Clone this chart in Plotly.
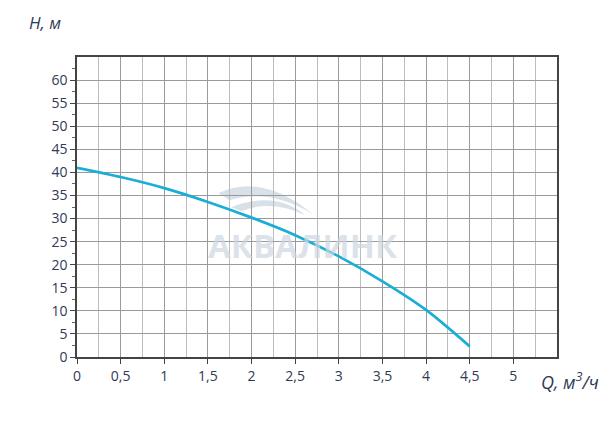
import plotly.graph_objects as go

# data
q_values = [0, 0.5, 1.0, 1.5, 2.0, 2.5, 3.0, 3.5, 4.0, 4.5]
h_values = [41.0, 39.0, 36.6, 33.6, 30.2, 26.4, 21.8, 16.4, 10.2, 2.3]
x_ticks = [0, 0.5, 1, 1.5, 2, 2.5, 3, 3.5, 4, 4.5, 5]
y_ticks = [0, 5, 10, 15, 20, 25, 30, 35, 40, 45, 50, 55, 60]

fig = go.Figure()
fig.add_trace(go.Scatter(x=q_values, y=h_values, mode="lines",
                         line=dict(color="#1aaed6", width=2.7, shape="spline", smoothing=0.8),
                         hoverinfo="skip", showlegend=False))


def px(x, y):
    return f"{(x - 77) / 87.6:.3f},{(357 - y) / 4.62:.3f}"


# watermark swoosh (decorative)
swoosh1 = (f"M {px(219,193)} Q {px(262,172)} {px(314,214)} "
           f"Q {px(270,188)} {px(230,200)} Z")
swoosh2 = (f"M {px(232,207)} Q {px(276,190)} {px(306,215)} "
           f"Q {px(272,199)} {px(242,211)} Z")
for p in (swoosh1, swoosh2):
    fig.add_shape(type="path", path=p, xref="x", yref="y", layer="below",
                  fillcolor="rgba(212,221,230,0.9)", line=dict(width=0))

fig.add_annotation(text="АКВАЛИНК", x=2.59, y=24.2, xref="x", yref="y", showarrow=False,
                   font=dict(family="Open Sans", size=33, color="rgba(205,214,224,0.7)", weight=700))

fig.update_layout(
    width=601, height=434,
    margin=dict(l=69, r=52, t=49, b=85, autoexpand=False),
    paper_bgcolor="white", plot_bgcolor="white",
    separators=", ",
    font=dict(family="Open Sans", size=14, color="#2f3a55"),
    xaxis=dict(range=[0, 5.5], tickvals=x_ticks, showgrid=True, gridcolor="#9a9a9a", gridwidth=1,
               showline=True, linecolor="#444", linewidth=1.5, mirror=True,
               ticks="outside", ticklen=5, tickcolor="#444", zeroline=False,
               minor=dict(dtick=0.25, showgrid=True, gridcolor="#bdbdbd", gridwidth=1, ticks=""),
               fixedrange=True),
    yaxis=dict(range=[0, 65], tickvals=y_ticks, showgrid=True, gridcolor="#9a9a9a", gridwidth=1,
               showline=True, linecolor="#444", linewidth=1.5, mirror=True,
               ticks="outside", ticklen=5, tickcolor="#444", zeroline=False,
               minor=dict(tickvals=[2.5 + 5 * i for i in range(13)], ticks="outside", ticklen=3,
                          tickcolor="#666", showgrid=False),
               fixedrange=True),
    annotations=list(fig.layout.annotations) + [
        dict(text="<i>H, м</i>", xref="paper", yref="paper", x=-0.104, y=1.16, xanchor="left",
             yanchor="top", showarrow=False, font=dict(family="Open Sans", size=17, color="#2f3a55")),
        dict(text="<i>Q, м<sup>3</sup>/ч</i>", xref="paper", yref="paper", x=0.962, y=-0.08, xanchor="left",
             yanchor="middle", showarrow=False, font=dict(family="Open Sans", size=18, color="#2f3a55")),
    ],
)

fig.write_html("out.html")
